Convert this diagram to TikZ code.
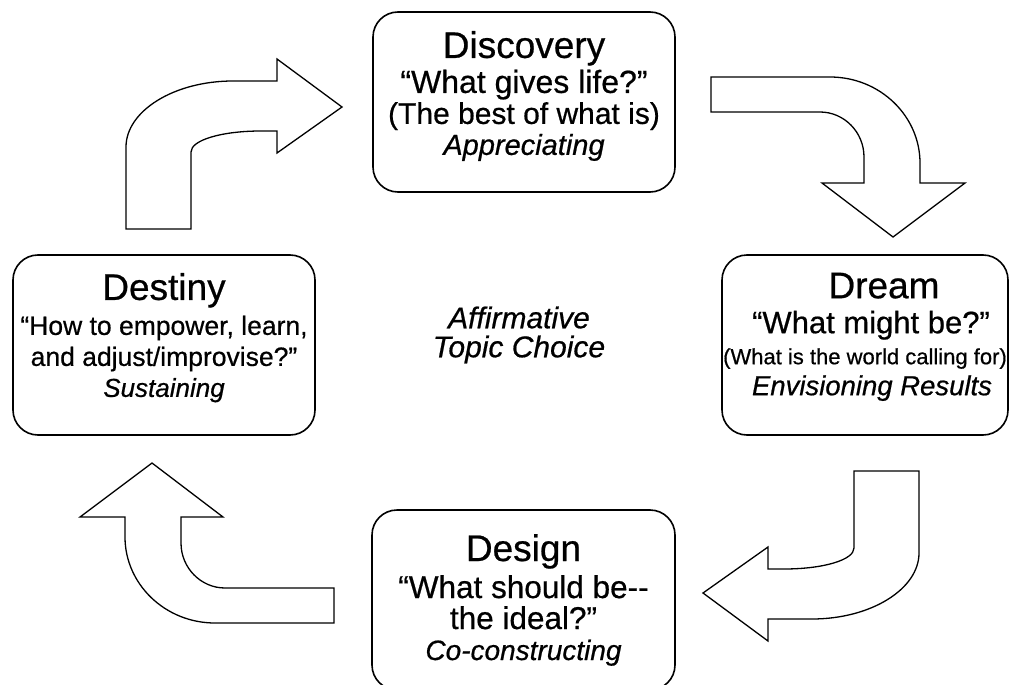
\documentclass[tikz,border=0pt]{standalone}
\usepackage{fontspec}
\setmainfont{Liberation Sans}[FakeBold=0.6]
\usepackage{tikz}
\def\bentarrowA[#1]{\draw[#1] (126,229) -- (126,147) .. controls (126,111) and (174,81) .. (233,81) -- (277,81) -- (277,59) -- (342,107) -- (277,153) -- (277,131) -- (261,131) .. controls (222,131) and (191,140) .. (191,152) -- (191,229) -- cycle;}
\def\bentarrowB[#1]{\draw[#1] (711,77) -- (830,77) .. controls (880,77) and (920,116) .. (920,163) -- (920,183) -- (965,183) -- (893,237) -- (822,183) -- (864,183) -- (864,157) .. controls (864,132) and (844,112) .. (820,112) -- (711,112) -- cycle;}
\def\lowpad#1{\rule[-#1]{0pt}{#1}}
\tikzset{
	phasebox/.style={draw, line width=1.6pt, rounded corners=25pt, align=center, minimum height=180pt, inner sep=0pt, font=\fontsize{30}{31}\selectfont},
	blockarrow/.style={line width=1.3pt, fill=white, line join=miter}
}

\begin{document}
\begin{tikzpicture}[x=1pt, y=-1pt]
			%%%%% START %%%%%
			\useasboundingbox (0,0) rectangle (1010,685);
			
			\node[phasebox, minimum width=302pt] (discovery) at (524,102) {{\fontsize{37}{40}\selectfont Discovery}\\[4pt]
				{\fontsize{32}{34}\selectfont “What gives life?”}\\
				{\fontsize{30}{32}\selectfont (The best of what is)}\\
				{\fontsize{29}{31}\selectfont\itshape Appreciating\lowpad{18pt}}};
			
			\node[phasebox, minimum width=286pt] (dream) at (865,345) {{\fontsize{37}{40}\selectfont\hspace*{38pt}Dream}\\[4pt]
				{\fontsize{31}{34}\selectfont\hspace*{12pt}“What might be?”}\\
				{\fontsize{22}{26}\selectfont (What is the world calling for)}\\
				{\fontsize{27.5}{31}\selectfont\itshape\hspace*{14pt}Envisioning Results\lowpad{22pt}}};
			
			\node[phasebox, minimum width=303pt] (design) at (523.5,600) {{\fontsize{37}{40}\selectfont Design}\\[6pt]
				{\fontsize{31.5}{34}\selectfont “What should be-{}-}\\
				{\fontsize{31.5}{34}\selectfont the ideal?”}\\
				{\fontsize{28}{31}\selectfont\itshape Co-constructing}};
			
			\node[phasebox, minimum width=302pt] (destiny) at (164,345) {{\fontsize{37}{40}\selectfont Destiny}\\[4pt]
				{\fontsize{26.5}{29}\selectfont “How to empower, learn,}\\
				{\fontsize{26.5}{29}\selectfont and adjust/improvise?”}\\
				{\fontsize{26}{29}\selectfont\itshape Sustaining\lowpad{20pt}}};
			
			\node[align=center, font=\fontsize{30}{29}\selectfont\itshape] (topic) at (519,335) {Affirmative\\Topic Choice};
			
			% block arrows (the lower two are the upper two turned round)
			\bentarrowA[blockarrow, draw]
			\bentarrowB[blockarrow, draw]
			\bentarrowA[blockarrow, draw, rotate around={180:(522.5,350)}]
			\bentarrowB[blockarrow, draw, rotate around={180:(522.5,350)}]
			
			%%%%% END %%%%%
\end{tikzpicture}
\end{document}
